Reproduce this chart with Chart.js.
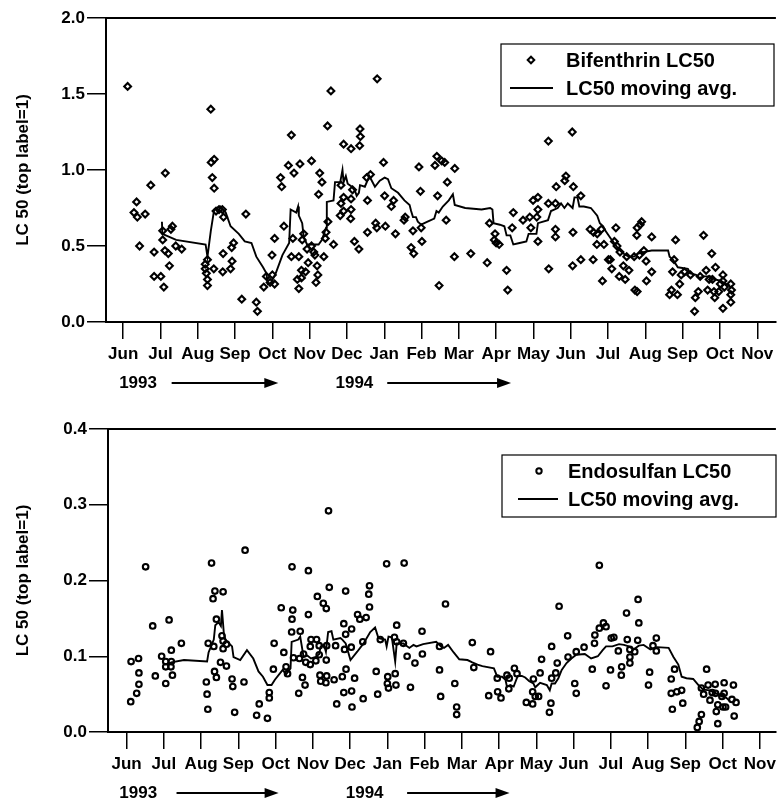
<!DOCTYPE html>
<html>
<head>
<meta charset="utf-8">
<script src="https://cdn.jsdelivr.net/npm/chart.js@4.4.0/dist/chart.umd.min.js"></script>
<style>
  html, body { margin: 0; padding: 0; background: #fff; }
  #wrap { position: relative; width: 782px; height: 802px; }
  canvas { position: absolute; left: 0; }
</style>
</head>
<body>
<div id="wrap">
  <canvas id="bif" width="782" height="400" style="top:0"></canvas>
  <canvas id="endo" width="782" height="402" style="top:400px"></canvas>
</div>
<script>
// month index 0 = Jun 1993 ... 17 = Nov 1994
const monthLabels = ['Jun','Jul','Aug','Sep','Oct','Nov','Dec','Jan','Feb','Mar','Apr','May','Jun','Jul','Aug','Sep','Oct','Nov'];
const yearLabels = ['1993', '1994'];
const seriesNames = {
  bif: ['Bifenthrin LC50', 'LC50 moving avg.'],
  endo: ['Endosulfan LC50', 'LC50 moving avg.']
};

// [month, LC50]
const bifPoints = [
  [0.12,1.55],[0.36,0.79],[0.29,0.72],[0.38,0.69],[0.59,0.71],[0.44,0.50],[0.74,0.90],[1.13,0.98],[0.83,0.46],[0.83,0.30],
  [1.01,0.30],[1.09,0.23],[1.06,0.60],[1.06,0.54],[1.12,0.47],[1.21,0.45],[1.24,0.37],[1.28,0.61],[1.32,0.63],[1.41,0.50],
  [1.57,0.48],[2.35,1.40],[2.36,1.05],[2.44,1.07],[2.39,0.95],[2.44,0.88],[2.49,0.73],[2.57,0.74],[2.66,0.74],[2.69,0.69],
  [2.26,0.41],[2.20,0.38],[2.20,0.35],[2.23,0.32],[2.26,0.28],[2.26,0.24],[2.43,0.35],[2.67,0.33],[2.68,0.45],[2.88,0.35],
  [2.92,0.40],[2.91,0.49],[2.96,0.52],[3.29,0.71],[3.18,0.15],[3.57,0.13],[3.60,0.07],[3.84,0.30],[3.77,0.23],[3.94,0.26],
  [4.00,0.31],[4.06,0.25],[3.99,0.44],[4.06,0.55],[4.31,0.63],[4.22,0.95],[4.25,0.89],[4.51,1.23],[4.43,1.03],[4.58,0.98],
  [4.74,1.04],[5.05,1.06],[4.51,0.43],[4.71,0.43],[4.55,0.55],[4.80,0.54],[4.84,0.58],[4.93,0.48],[5.05,0.50],[5.11,0.46],
  [5.14,0.44],[4.96,0.39],[4.78,0.34],[4.89,0.33],[4.67,0.28],[4.78,0.29],[4.71,0.22],[5.20,0.37],[5.22,0.31],[5.17,0.26],
  [5.38,0.43],[5.42,0.55],[5.44,0.59],[5.49,0.66],[5.64,0.51],[5.24,0.84],[5.33,0.92],[5.27,0.98],[5.48,1.29],[5.57,1.52],
  [5.82,0.70],[5.84,0.78],[5.84,0.90],[5.91,0.82],[5.91,0.73],[6.10,0.68],[6.11,0.74],[6.11,0.81],[6.15,0.87],[5.91,1.17],
  [6.11,1.14],[6.35,1.27],[6.36,1.22],[6.34,1.16],[6.20,0.53],[6.32,0.48],[6.55,0.80],[6.53,0.95],[6.63,0.97],[6.81,1.60],
  [6.98,1.05],[6.55,0.59],[6.77,0.65],[6.80,0.62],[7.03,0.63],[7.01,0.83],[7.19,0.76],[7.25,0.80],[7.30,0.58],[7.53,0.67],
  [7.56,0.69],[7.77,0.60],[7.72,0.49],[7.79,0.45],[8.01,0.53],[7.99,0.62],[7.97,0.86],[7.93,1.02],[8.36,1.03],[8.41,1.09],
  [8.54,1.06],[8.43,0.83],[8.47,0.24],[8.62,1.05],[8.89,1.01],[8.69,0.92],[8.66,0.67],[8.88,0.43],[9.32,0.45],[9.76,0.39],
  [9.82,0.65],[9.97,0.58],[9.95,0.54],[10.00,0.52],[10.08,0.51],[10.28,0.34],[10.31,0.21],[10.46,0.72],[10.43,0.62],[10.72,0.67],
  [10.90,0.69],[10.99,0.80],[11.12,0.82],[11.12,0.74],[11.09,0.69],[10.93,0.62],[11.12,0.53],[11.41,0.35],[11.40,0.78],[11.59,0.78],
  [11.61,0.89],[11.59,0.61],[11.59,0.56],[11.40,1.19],[12.04,1.25],[11.87,0.96],[11.84,0.93],[12.07,0.89],[12.27,0.83],[12.06,0.59],
  [12.05,0.37],[12.27,0.41],[12.60,0.41],[12.52,0.61],[12.61,0.59],[12.71,0.58],[12.82,0.61],[12.70,0.51],[12.89,0.51],[12.85,0.27],
  [13.01,0.41],[13.21,0.62],[13.17,0.53],[13.24,0.50],[13.32,0.46],[13.06,0.41],[13.10,0.35],[13.41,0.37],[13.30,0.30],[13.46,0.28],
  [13.56,0.34],[13.50,0.43],[13.70,0.43],[13.72,0.21],[13.78,0.20],[13.77,0.57],[13.78,0.62],[13.86,0.64],[13.90,0.66],[13.84,0.44],
  [13.96,0.47],[14.02,0.40],[14.17,0.56],[14.17,0.33],[14.03,0.27],[14.81,0.54],[14.77,0.41],[14.73,0.33],[14.96,0.31],[14.92,0.25],
  [14.70,0.21],[14.65,0.18],[14.86,0.18],[15.05,0.33],[15.21,0.31],[15.56,0.57],[15.78,0.45],[15.88,0.36],[15.63,0.34],[15.47,0.30],
  [15.42,0.20],[15.34,0.16],[15.32,0.07],[15.67,0.21],[15.80,0.28],[15.84,0.20],[15.86,0.16],[15.97,0.20],[16.01,0.25],[16.08,0.31],
  [16.08,0.27],[16.12,0.23],[16.08,0.09],[16.29,0.25],[16.31,0.21],[16.29,0.18],[16.29,0.13],[15.71,0.28]
];

const bifAvg = [
  [1.04,0.66],[1.05,0.58],[1.42,0.54],[2.21,0.51],[2.26,0.43],[2.35,0.60],[2.44,0.74],[2.61,0.76],[2.75,0.72],[2.88,0.63],
  [3.10,0.58],[3.26,0.53],[3.44,0.52],[3.57,0.43],[3.75,0.36],[3.84,0.32],[3.88,0.25],[3.97,0.26],[4.09,0.32],[4.27,0.44],
  [4.45,0.52],[4.49,0.74],[4.64,0.72],[4.69,0.76],[4.71,0.70],[4.80,0.65],[4.84,0.56],[4.93,0.51],[5.24,0.51],[5.33,0.54],
  [5.44,0.62],[5.46,0.79],[5.64,0.80],[5.68,0.92],[5.82,0.92],[5.88,1.00],[5.91,0.92],[5.97,0.96],[6.02,0.91],[6.13,0.89],
  [6.22,0.86],[6.26,0.83],[6.32,0.85],[6.35,0.90],[6.48,0.89],[6.60,0.96],[6.75,0.89],[6.88,0.93],[7.01,0.95],[7.10,0.94],
  [7.19,0.88],[7.37,0.85],[7.54,0.80],[7.68,0.77],[7.72,0.73],[7.77,0.69],[7.85,0.69],[7.90,0.66],[7.99,0.64],[8.16,0.66],
  [8.34,0.68],[8.40,0.73],[8.46,0.72],[8.57,0.76],[8.73,0.80],[8.84,0.84],[8.89,0.77],[9.17,0.75],[9.61,0.74],[9.84,0.75],
  [9.90,0.74],[9.93,0.65],[10.10,0.64],[10.22,0.63],[10.28,0.57],[10.38,0.57],[10.46,0.51],[10.63,0.52],[10.81,0.53],[10.87,0.58],
  [11.08,0.58],[11.12,0.65],[11.39,0.67],[11.47,0.73],[11.65,0.75],[11.74,0.78],[11.83,0.75],[11.92,0.78],[12.05,0.75],[12.10,0.82],
  [12.18,0.82],[12.23,0.76],[12.35,0.76],[12.54,0.75],[12.71,0.70],[12.78,0.65],[12.87,0.63],[12.93,0.60],[13.10,0.54],[13.28,0.48],
  [13.41,0.45],[13.55,0.43],[13.70,0.43],[13.81,0.45],[13.94,0.46],[14.17,0.47],[14.61,0.47],[14.65,0.43],[14.74,0.41],[14.87,0.36],
  [15.14,0.35],[15.21,0.32],[15.36,0.31],[15.45,0.29],[15.58,0.30],[15.76,0.30],[15.87,0.28],[16.03,0.27],[16.16,0.25],[16.27,0.24]
];

const endoPoints = [
  [0.51,0.218],[0.12,0.093],[0.32,0.097],[0.33,0.078],[0.33,0.063],[0.27,0.051],[0.11,0.040],[0.70,0.140],[1.14,0.148],[0.77,0.074],
  [0.94,0.100],[1.05,0.093],[1.05,0.086],[1.19,0.086],[1.20,0.093],[1.20,0.108],[1.23,0.075],[1.05,0.064],[1.47,0.117],[2.28,0.223],
  [2.37,0.186],[2.59,0.185],[2.32,0.176],[2.41,0.149],[2.19,0.117],[2.34,0.113],[2.56,0.127],[2.59,0.120],[2.59,0.110],[2.68,0.116],
  [2.52,0.092],[2.68,0.087],[2.36,0.080],[2.41,0.072],[2.14,0.066],[2.16,0.050],[2.18,0.030],[2.83,0.070],[2.85,0.060],[2.90,0.026],
  [3.18,0.240],[3.15,0.066],[3.49,0.022],[3.56,0.037],[3.78,0.018],[3.83,0.045],[3.83,0.052],[3.94,0.083],[3.96,0.117],[4.22,0.105],
  [4.28,0.086],[4.32,0.077],[4.15,0.164],[4.44,0.218],[4.46,0.161],[4.44,0.149],[4.43,0.132],[4.66,0.133],[4.48,0.098],[4.64,0.097],
  [4.75,0.103],[4.81,0.092],[4.93,0.089],[5.08,0.094],[5.17,0.102],[4.93,0.113],[4.95,0.122],[5.10,0.122],[5.17,0.114],[5.37,0.114],
  [5.36,0.095],[4.88,0.213],[4.88,0.155],[4.72,0.072],[4.79,0.062],[4.62,0.051],[5.19,0.075],[5.21,0.067],[5.35,0.065],[5.37,0.074],
  [5.57,0.069],[5.64,0.037],[5.12,0.179],[5.28,0.170],[5.36,0.163],[5.44,0.191],[5.42,0.292],[5.61,0.114],[5.88,0.186],[5.83,0.143],
  [5.88,0.129],[5.85,0.109],[6.04,0.136],[6.03,0.112],[5.89,0.083],[5.79,0.073],[6.12,0.071],[5.83,0.052],[6.04,0.054],[6.05,0.033],
  [6.35,0.044],[6.20,0.155],[6.26,0.149],[6.43,0.151],[6.50,0.182],[6.52,0.193],[6.52,0.165],[6.34,0.119],[6.70,0.080],[6.74,0.050],
  [6.81,0.122],[6.98,0.222],[7.45,0.223],[7.01,0.073],[7.00,0.064],[7.03,0.058],[7.21,0.077],[7.23,0.062],[7.19,0.125],[7.25,0.119],
  [7.25,0.141],[7.43,0.117],[7.53,0.100],[7.62,0.059],[7.74,0.091],[7.93,0.133],[7.94,0.103],[8.40,0.113],[8.40,0.082],[8.43,0.047],
  [8.56,0.169],[8.81,0.064],[8.86,0.033],[8.86,0.023],[9.28,0.118],[9.32,0.085],[9.77,0.106],[9.72,0.048],[9.95,0.071],[9.96,0.053],
  [10.05,0.045],[10.21,0.075],[10.27,0.071],[10.26,0.057],[10.41,0.084],[10.48,0.077],[10.73,0.039],[10.90,0.037],[10.90,0.053],[10.97,0.047],
  [11.06,0.047],[10.92,0.070],[11.10,0.078],[11.14,0.096],[11.41,0.113],[11.41,0.071],[11.39,0.038],[11.35,0.026],[11.52,0.078],[11.56,0.091],
  [11.61,0.166],[11.84,0.127],[11.85,0.099],[12.07,0.106],[12.03,0.064],[12.07,0.051],[12.28,0.112],[12.50,0.083],[12.56,0.117],[12.57,0.128],
  [12.69,0.137],[12.80,0.144],[12.87,0.139],[12.69,0.220],[12.87,0.061],[12.99,0.082],[13.01,0.124],[13.08,0.125],[13.20,0.107],[13.29,0.086],
  [13.28,0.075],[13.42,0.157],[13.44,0.122],[13.51,0.109],[13.51,0.099],[13.51,0.091],[13.64,0.106],[13.72,0.121],[13.73,0.175],[13.75,0.144],
  [14.04,0.079],[14.01,0.062],[14.13,0.114],[14.22,0.124],[14.22,0.107],[14.71,0.083],[14.62,0.070],[14.62,0.051],[14.77,0.053],[14.90,0.055],
  [14.93,0.038],[14.65,0.030],[15.43,0.023],[15.37,0.014],[15.32,0.006],[15.57,0.083],[15.43,0.058],[15.49,0.050],[15.61,0.062],[15.66,0.042],
  [15.80,0.063],[15.81,0.051],[15.83,0.027],[15.87,0.011],[15.87,0.036],[15.98,0.047],[16.04,0.065],[16.04,0.051],[16.01,0.033],[16.08,0.033],
  [16.29,0.062],[16.25,0.043],[16.36,0.039],[16.31,0.021],[15.72,0.052]
];

const endoAvg = [
  [1.14,0.090],[1.20,0.092],[1.54,0.095],[2.16,0.093],[2.20,0.105],[2.34,0.122],[2.38,0.141],[2.47,0.145],[2.53,0.140],[2.56,0.161],
  [2.61,0.130],[2.65,0.122],[2.83,0.113],[2.87,0.099],[3.05,0.095],[3.23,0.108],[3.40,0.097],[3.54,0.080],[3.66,0.073],[3.78,0.062],
  [3.89,0.062],[3.98,0.069],[4.19,0.082],[4.28,0.076],[4.40,0.084],[4.43,0.119],[4.61,0.122],[4.66,0.126],[4.75,0.099],[4.85,0.101],
  [4.95,0.097],[5.08,0.099],[5.17,0.103],[5.21,0.113],[5.30,0.115],[5.35,0.106],[5.41,0.132],[5.50,0.133],[5.55,0.122],[5.74,0.124],
  [5.79,0.122],[5.88,0.117],[6.01,0.095],[6.19,0.106],[6.36,0.117],[6.54,0.132],[6.67,0.138],[6.76,0.124],[6.94,0.122],[6.98,0.113],
  [7.03,0.126],[7.12,0.125],[7.21,0.093],[7.25,0.117],[7.43,0.117],[7.59,0.111],[7.70,0.115],[7.78,0.113],[7.96,0.116],[8.31,0.119],
  [8.44,0.113],[8.52,0.111],[8.63,0.115],[8.78,0.105],[8.93,0.096],[9.15,0.095],[9.28,0.092],[9.42,0.089],[9.55,0.087],[9.86,0.084],
  [9.95,0.073],[10.08,0.073],[10.17,0.069],[10.21,0.060],[10.30,0.062],[10.39,0.060],[10.50,0.074],[10.61,0.074],[10.70,0.072],[10.81,0.067],
  [10.92,0.064],[10.97,0.059],[11.10,0.065],[11.28,0.062],[11.36,0.055],[11.41,0.064],[11.50,0.064],[11.59,0.071],[11.68,0.082],[11.81,0.091],
  [11.94,0.097],[12.07,0.102],[12.30,0.103],[12.47,0.097],[12.65,0.100],[12.78,0.108],[12.87,0.113],[13.04,0.113],[13.22,0.116],[13.35,0.115],
  [13.48,0.113],[13.61,0.109],[13.75,0.114],[13.88,0.115],[14.06,0.109],[14.24,0.112],[14.55,0.111],[14.68,0.099],[14.81,0.089],[14.90,0.073],
  [15.03,0.071],[15.21,0.070],[15.35,0.062],[15.48,0.056],[15.66,0.055],[15.83,0.051],[15.97,0.047],[16.10,0.045],[16.19,0.041]
];

const FONT = '"Liberation Sans", Arial, Helvetica, sans-serif';
Chart.defaults.font.family = FONT;
Chart.defaults.font.weight = 'bold';
Chart.defaults.color = '#000';

function toXY(pairs) {
  return pairs.map(p => ({ x: p[0], y: p[1] }));
}

// frame line on top, year arrows under the axis, boxed legend
const extras = {
  id: 'extras',
  afterDraw(chart, args, opts) {
    const ctx = chart.ctx;
    const area = chart.chartArea;
    const xs = chart.scales.x;
    ctx.save();
    ctx.strokeStyle = '#000';
    ctx.fillStyle = '#000';
    ctx.lineWidth = 2;
    ctx.beginPath();
    ctx.moveTo(area.left, area.top);
    ctx.lineTo(area.right, area.top);
    ctx.stroke();

    // years
    ctx.font = 'bold 17px ' + FONT;
    ctx.textAlign = 'center';
    ctx.textBaseline = 'middle';
    opts.years.forEach((y, i) => {
      const yy = opts.yearY;
      ctx.fillText(yearLabels[i], xs.getPixelForValue(y.at), yy);
      const x0 = xs.getPixelForValue(y.from);
      const x1 = xs.getPixelForValue(y.to);
      ctx.lineWidth = 2;
      ctx.beginPath();
      ctx.moveTo(x0, yy);
      ctx.lineTo(x1 - 8, yy);
      ctx.stroke();
      ctx.beginPath();
      ctx.moveTo(x1, yy);
      ctx.lineTo(x1 - 14, yy - 5);
      ctx.lineTo(x1 - 14, yy + 5);
      ctx.closePath();
      ctx.fill();
    });

    // legend
    const lg = opts.legend;
    const names = chart.data.datasets.map(d => d.label);
    ctx.lineWidth = 1.2;
    ctx.strokeRect(lg.box[0], lg.box[1], lg.box[2] - lg.box[0], lg.box[3] - lg.box[1]);
    ctx.font = 'bold 20px ' + FONT;
    ctx.textAlign = 'left';
    ctx.fillText(names[0], lg.textX, lg.rows[0]);
    ctx.fillText(names[1], lg.textX, lg.rows[1]);
    ctx.lineWidth = 2;
    const mx = lg.markX, my = lg.rows[0] - 1;
    ctx.beginPath();
    if (lg.marker === 'diamond') {
      ctx.moveTo(mx - 3.3, my); ctx.lineTo(mx, my - 3.3); ctx.lineTo(mx + 3.3, my); ctx.lineTo(mx, my + 3.3);
      ctx.closePath();
    } else {
      ctx.arc(mx, my, 2.7, 0, Math.PI * 2);
    }
    ctx.stroke();
    ctx.lineWidth = 1.8;
    ctx.beginPath();
    ctx.moveTo(lg.line[0], lg.rows[1] - 1);
    ctx.lineTo(lg.line[1], lg.rows[1] - 1);
    ctx.stroke();
    ctx.restore();
  }
};

function makeChart(id, cfg) {
  return new Chart(document.getElementById(id), {
    type: 'scatter',
    data: {
      datasets: [{
        label: cfg.names[0],
        data: toXY(cfg.points),
        pointStyle: cfg.pointStyle,
        pointRadius: cfg.radius,
        pointBorderWidth: 2.1,
        borderColor: '#000',
        backgroundColor: 'rgba(0,0,0,0)',
        order: 2
      }, {
        label: cfg.names[1],
        data: toXY(cfg.avg),
        showLine: true,
        borderColor: '#000',
        borderWidth: 1.9,
        pointRadius: 0,
        tension: 0,
        order: 1
      }]
    },
    options: {
      responsive: false,
      animation: false,
      events: [],
      layout: { padding: { top: cfg.padTop, right: 0, left: 0, bottom: 0 } },
      plugins: {
        legend: { display: false },
        tooltip: { enabled: false },
        extras: cfg.extras
      },
      scales: {
        x: {
          type: 'linear',
          min: cfg.xMin,
          max: cfg.xMax,
          afterFit: s => { s.height = cfg.xHeight; },
          afterBuildTicks: s => { s.ticks = monthLabels.map((m, i) => ({ value: i })); },
          ticks: {
            autoSkip: false,
            maxRotation: 0,
            padding: 5,
            font: { size: 17, weight: 'bold' },
            callback: v => monthLabels[v]
          },
          grid: { drawOnChartArea: false, drawTicks: true, tickLength: 17, color: '#000', lineWidth: 1.5 },
          border: { display: true, color: '#000', width: 2 }
        },
        y: {
          min: 0,
          max: cfg.yMax,
          afterFit: s => { s.width = cfg.yWidth; },
          ticks: {
            stepSize: cfg.yStep,
            padding: 2,
            font: { size: 17, weight: 'bold' },
            callback: v => v.toFixed(1)
          },
          grid: { drawOnChartArea: false, drawTicks: true, tickLength: 19, color: '#000', lineWidth: 1.5 },
          border: { display: true, color: '#000', width: 2 },
          title: {
            display: true,
            text: 'LC 50 (top label=1)',
            font: { size: 17, weight: 'bold' },
            padding: { top: 13, bottom: 0 }
          }
        }
      }
    },
    plugins: [extras]
  });
}

makeChart('bif', {
  names: seriesNames.bif,
  points: bifPoints,
  avg: bifAvg,
  pointStyle: 'rectRot',
  radius: 3.4,
  padTop: 18,
  xHeight: 78,
  yWidth: 106,
  xMin: -0.46,
  xMax: 17.5,
  yMax: 2,
  yStep: 0.5,
  extras: {
    yearY: 383,
    years: [{ at: 0.4, from: 1.3, to: 4.16 }, { at: 6.2, from: 7.08, to: 10.4 }],
    legend: { box: [501, 44, 774, 106], marker: 'diamond', markX: 531, textX: 566, rows: [61, 89], line: [510, 553] }
  }
});

makeChart('endo', {
  names: seriesNames.endo,
  points: endoPoints,
  avg: endoAvg,
  pointStyle: 'circle',
  radius: 2.8,
  padTop: 29,
  xHeight: 70,
  yWidth: 108,
  xMin: -0.5,
  xMax: 17.43,
  yMax: 0.4,
  yStep: 0.1,
  extras: {
    yearY: 393,
    years: [{ at: 0.31, from: 1.34, to: 4.08 }, { at: 6.39, from: 7.53, to: 10.28 }],
    legend: { box: [502, 55, 776, 117], marker: 'circle', markX: 539, textX: 568, rows: [72, 100], line: [518, 558] }
  }
});
</script>
</body>
</html>
